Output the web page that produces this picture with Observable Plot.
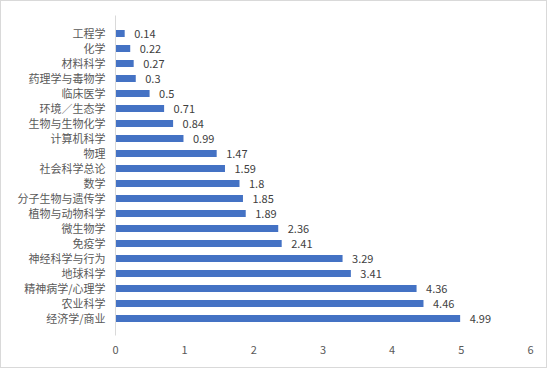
<!DOCTYPE html>
<html>
<head>
<meta charset="utf-8">
<script src="https://cdn.jsdelivr.net/npm/d3@7"></script>
<script src="https://cdn.jsdelivr.net/npm/@observablehq/plot@0.6"></script>
<style>
  html, body { margin: 0; padding: 0; background: #fff; }
  #chart svg { display: block; outline: 1px solid #d9d9d9; outline-offset: -1px; }
</style>
</head>
<body>
<div id="chart"></div>
<script>
const categories = ["工程学","化学","材料科学","药理学与毒物学","临床医学","环境／生态学","生物与生物化学","计算机科学","物理","社会科学总论","数学","分子生物与遗传学","植物与动物科学","微生物学","免疫学","神经科学与行为","地球科学","精神病学/心理学","农业科学","经济学/商业"];
const values = [0.14,0.22,0.27,0.3,0.5,0.71,0.84,0.99,1.47,1.59,1.8,1.85,1.89,2.36,2.41,3.29,3.41,4.36,4.46,4.99];
const xTicks = [0,1,2,3,4,5,6];

const data = categories.map((c, i) => ({category: c, value: values[i]}));

const chart = Plot.plot({
  width: 547,
  height: 368,
  marginLeft: 115,
  marginRight: 17,
  marginTop: 15.5,
  marginBottom: 32.5,
  style: {fontFamily: "'Noto Sans CJK SC', 'Noto Sans', sans-serif", background: "#fff"},
  x: {domain: [0, 6], ticks: xTicks, label: null},
  y: {domain: categories, label: null, padding: 0.56},
  marks: [
    Plot.barX(data, {x: "value", y: "category", fill: "#4472c4"}),
    Plot.ruleX([0], {stroke: "#d9d9d9"}),
    Plot.text(data, {x: "value", y: "category", text: d => String(d.value), textAnchor: "start", dx: 9, fill: "#404040", fontSize: 11}),
    Plot.axisY({tickSize: 0, tickPadding: 10, fontSize: 11, color: "#595959"}),
    Plot.axisX({ticks: xTicks, tickSize: 0, tickPadding: 10, fontSize: 11, color: "#595959", tickFormat: d => String(d)})
  ]
});
document.getElementById("chart").appendChild(chart);
</script>
</body>
</html>
